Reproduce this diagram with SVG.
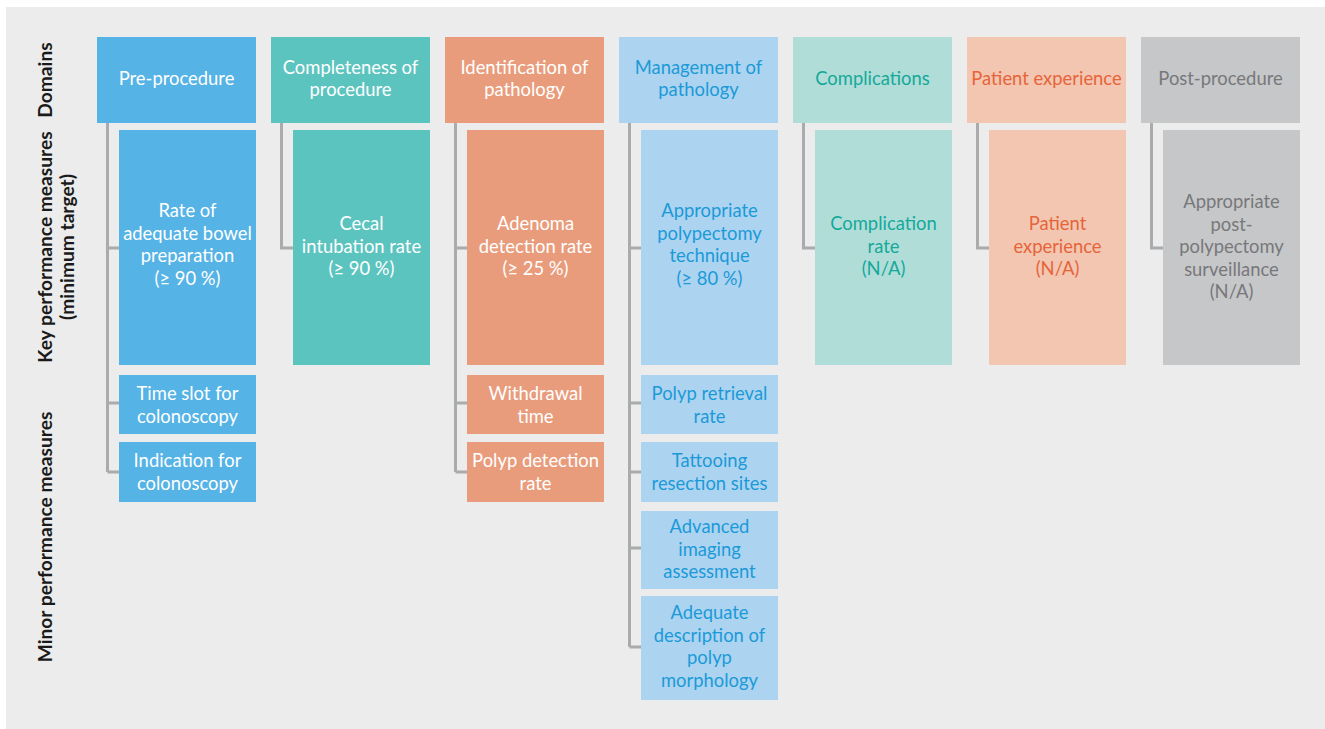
<svg xmlns="http://www.w3.org/2000/svg" width="1325" height="729" viewBox="0 0 1325 729">
<style>
text{font-family:Lato,"Open Sans","Liberation Sans",sans-serif;font-size:18.4px;text-anchor:middle}
.lbl{font-weight:bold;fill:#1a1a1a}
.lbl text{font-size:19.2px}
.w{fill:#ffffff}
.b{fill:#1b9ad8}
.t{fill:#14a99a}
.o{fill:#e6643a}
.g{fill:#77787a}
.c1{fill:#55b3e6}.c2{fill:#5cc4bf}.c3{fill:#e99c7b}.c4{fill:#acd3f0}.c5{fill:#b1ddd9}.c6{fill:#f2c6b0}.c7{fill:#c6c7c9}
.con{fill:none;stroke:#a9abad;stroke-width:3}
</style>
<rect x="0" y="0" width="1325" height="729" fill="#ffffff"/>
<rect x="6" y="7" width="1319" height="722" fill="#ebeceb"/>
<g id="row-labels" class="lbl">
<text transform="translate(52,80) rotate(-90)">Domains</text>
<text transform="translate(52,247) rotate(-90)">Key performance measures</text>
<text transform="translate(74,247) rotate(-90)">(minimum target)</text>
<text transform="translate(52,537) rotate(-90)">Minor performance measures</text>
</g>
<g id="connectors" class="con">
<path d="M107.5,123 V472 M107.5,248 H119 M107.5,403 H119 M107.5,472 H119"/>
<path d="M281.5,123 V248 H293"/>
<path d="M455.5,123 V472 M455.5,248 H467 M455.5,403 H467 M455.5,472 H467"/>
<path d="M629.5,123 V647 M629.5,248 H641 M629.5,403 H641 M629.5,472 H641 M629.5,548 H641 M629.5,647 H641"/>
<path d="M803.5,123 V248 H815"/>
<path d="M977.5,123 V248 H989"/>
<path d="M1151.5,123 V248 H1163"/>
</g>
<g id="d1"><rect class="c1" x="97" y="37" width="159" height="86"/><text class="w" x="176.5" y="85">Pre-procedure</text></g>
<g id="d2"><rect class="c2" x="271" y="37" width="159" height="86"/><text class="w" x="350.5" y="74">Completeness of</text><text class="w" x="350.5" y="96">procedure</text></g>
<g id="d3"><rect class="c3" x="445" y="37" width="159" height="86"/><text class="w" x="524.5" y="74">Identification of</text><text class="w" x="524.5" y="96">pathology</text></g>
<g id="d4"><rect class="c4" x="619" y="37" width="159" height="86"/><text class="b" x="698.5" y="74">Management of</text><text class="b" x="698.5" y="96">pathology</text></g>
<g id="d5"><rect class="c5" x="793" y="37" width="159" height="86"/><text class="t" x="872.5" y="85">Complications</text></g>
<g id="d6"><rect class="c6" x="967" y="37" width="159" height="86"/><text class="o" x="1046.5" y="85">Patient experience</text></g>
<g id="d7"><rect class="c7" x="1141" y="37" width="159" height="86"/><text class="g" x="1220.5" y="85">Post-procedure</text></g>

<g id="k1"><rect class="c1" x="119" y="130" width="137" height="235"/>
<text class="w" x="187.5" y="217">Rate of</text><text class="w" x="187.5" y="239.5">adequate bowel</text><text class="w" x="187.5" y="262">preparation</text><text class="w" x="187.5" y="284.5">(≥ 90 %)</text></g>
<g id="k2"><rect class="c2" x="293" y="130" width="137" height="235"/>
<text class="w" x="361.5" y="230">Cecal</text><text class="w" x="361.5" y="252.5">intubation rate</text><text class="w" x="361.5" y="275">(≥ 90 %)</text></g>
<g id="k3"><rect class="c3" x="467" y="130" width="137" height="235"/>
<text class="w" x="535.5" y="230">Adenoma</text><text class="w" x="535.5" y="252.5">detection rate</text><text class="w" x="535.5" y="275">(≥ 25 %)</text></g>
<g id="k4"><rect class="c4" x="641" y="130" width="137" height="235"/>
<text class="b" x="709.5" y="217">Appropriate</text><text class="b" x="709.5" y="239.5">polypectomy</text><text class="b" x="709.5" y="262">technique</text><text class="b" x="709.5" y="284.5">(≥ 80 %)</text></g>
<g id="k5"><rect class="c5" x="815" y="130" width="137" height="235"/>
<text class="t" x="883.5" y="230">Complication</text><text class="t" x="883.5" y="252.5">rate</text><text class="t" x="883.5" y="275">(N/A)</text></g>
<g id="k6"><rect class="c6" x="989" y="130" width="137" height="235"/>
<text class="o" x="1057.5" y="230">Patient</text><text class="o" x="1057.5" y="252.5">experience</text><text class="o" x="1057.5" y="275">(N/A)</text></g>
<g id="k7"><rect class="c7" x="1163" y="130" width="137" height="235"/>
<text class="g" x="1231.5" y="208">Appropriate</text><text class="g" x="1231.5" y="230.5">post-</text><text class="g" x="1231.5" y="253">polypectomy</text><text class="g" x="1231.5" y="275.5">surveillance</text><text class="g" x="1231.5" y="298">(N/A)</text></g>

<g id="m1a"><rect class="c1" x="119" y="375" width="137" height="59"/><text class="w" x="187.5" y="400">Time slot for</text><text class="w" x="187.5" y="422.5">colonoscopy</text></g>
<g id="m1b"><rect class="c1" x="119" y="442" width="137" height="60"/><text class="w" x="187.5" y="467">Indication for</text><text class="w" x="187.5" y="489.5">colonoscopy</text></g>
<g id="m3a"><rect class="c3" x="467" y="375" width="137" height="59"/><text class="w" x="535.5" y="400">Withdrawal</text><text class="w" x="535.5" y="422.5">time</text></g>
<g id="m3b"><rect class="c3" x="467" y="442" width="137" height="60"/><text class="w" x="535.5" y="467">Polyp detection</text><text class="w" x="535.5" y="489.5">rate</text></g>
<g id="m4a"><rect class="c4" x="641" y="375" width="137" height="59"/><text class="b" x="709.5" y="400">Polyp retrieval</text><text class="b" x="709.5" y="422.5">rate</text></g>
<g id="m4b"><rect class="c4" x="641" y="442" width="137" height="60"/><text class="b" x="709.5" y="467">Tattooing</text><text class="b" x="709.5" y="489.5">resection sites</text></g>
<g id="m4c"><rect class="c4" x="641" y="511" width="137" height="78"/><text class="b" x="709.5" y="533">Advanced</text><text class="b" x="709.5" y="555.5">imaging</text><text class="b" x="709.5" y="578">assessment</text></g>
<g id="m4d"><rect class="c4" x="641" y="596" width="137" height="104"/><text class="b" x="709.5" y="619">Adequate</text><text class="b" x="709.5" y="641.5">description of</text><text class="b" x="709.5" y="664">polyp</text><text class="b" x="709.5" y="686.5">morphology</text></g>
</svg>
